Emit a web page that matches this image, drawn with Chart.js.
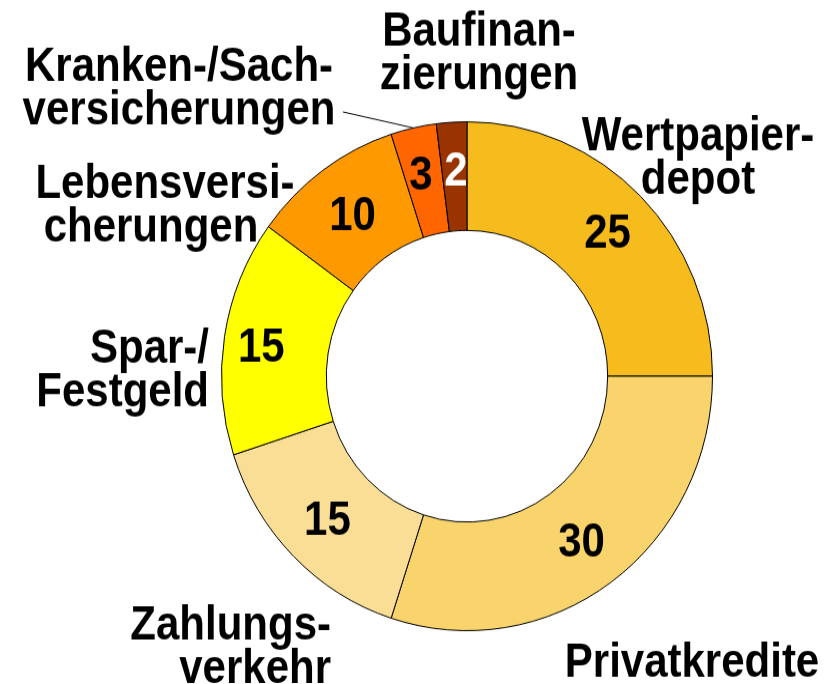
<!DOCTYPE html>
<html lang="de">
<head>
<meta charset="utf-8">
<title>Anteile</title>
<script src="https://cdn.jsdelivr.net/npm/chart.js@4.4.1/dist/chart.umd.min.js"></script>
<style>
  html, body { margin: 0; padding: 0; background: #fff; overflow: hidden; }
</style>
</head>
<body>
<!-- drawn at 660 high and shown at 684: the original is a little taller than wide -->
<canvas id="chart" width="836" height="660" style="width:836px;height:684px"></canvas>
<script>
const CATEGORIES = [
  ['Wertpapier-', 'depot'],
  ['Privatkredite'],
  ['Zahlungs-', 'verkehr'],
  ['Spar-/', 'Festgeld'],
  ['Lebensversi-', 'cherungen'],
  ['Kranken-/Sach-', 'versicherungen'],
  ['Baufinan-', 'zierungen'],
];
const VALUES = [25, 30, 15, 15, 10, 3, 2];
const COLORS = ['#F6BB1C', '#F9D46C', '#FADE96', '#FFFF00', '#FF9900', '#FF6600', '#993300'];
const VALUE_COLORS = ['#000', '#000', '#000', '#000', '#000', '#000', '#fff'];

// category label placement, relative to the doughnut centre (canvas px);
// lineDx shifts single lines sideways
const LABEL_POS = [
  { dx: 231, dy: -218, align: 'center' },
  { dx: 225, dy: 290, align: 'center' },
  { dx: -136, dy: 254, align: 'right' },
  { dx: -258, dy: -13, align: 'right' },
  { dx: -302, dy: -172, align: 'center', lineDx: [0, -14] },
  { dx: -288, dy: -285, align: 'center' },
  { dx: 12, dy: -319, align: 'center' },
];
// small nudges of the numbers away from the slice centre
const VALUE_NUDGE = [[4, 0], [1, 5], [-3, 4], [-15, 4], [-1, 3], [-4, -4], [1, -4]];
const LEADER = { index: 5, to: [-124, -255] };

const FONT = 'bold 42px "Liberation Sans", Arial, sans-serif';
const TEXT_SY = 1.095;
const LINE_HEIGHT = 42;

function tallText(ctx, text, x, y) {
  ctx.save();
  ctx.translate(x, y);
  ctx.scale(1, TEXT_SY);
  ctx.fillText(text, 0, 0);
  ctx.restore();
}

const labelPlugin = {
  id: 'sliceLabels',
  afterDraw(chart) {
    const ctx = chart.ctx;
    const arcs = chart.getDatasetMeta(0).data;
    const c = arcs[0].getProps(['x', 'y']);

    ctx.save();
    ctx.font = FONT;

    // values inside the ring
    ctx.textAlign = 'center';
    ctx.textBaseline = 'middle';
    arcs.forEach((arc, i) => {
      const p = arc.getCenterPoint();
      ctx.fillStyle = VALUE_COLORS[i];
      tallText(ctx, String(VALUES[i]), p.x + VALUE_NUDGE[i][0], p.y + VALUE_NUDGE[i][1]);
    });

    // category names around it
    ctx.fillStyle = '#000';
    ctx.textBaseline = 'alphabetic';
    CATEGORIES.forEach((lines, i) => {
      const pos = LABEL_POS[i];
      ctx.textAlign = pos.align;
      lines.forEach((line, j) => {
        const shift = pos.lineDx ? pos.lineDx[j] : 0;
        tallText(ctx, line, c.x + pos.dx + shift, c.y + pos.dy + j * LINE_HEIGHT);
      });
    });

    // leader line for the small slice
    const a = arcs[LEADER.index].getProps(['x', 'y', 'startAngle', 'endAngle', 'outerRadius']);
    const mid = (a.startAngle + a.endAngle) / 2;
    ctx.strokeStyle = '#000';
    ctx.lineWidth = 1;
    ctx.beginPath();
    ctx.moveTo(c.x + LEADER.to[0], c.y + LEADER.to[1]);
    ctx.lineTo(a.x + Math.cos(mid) * a.outerRadius, a.y + Math.sin(mid) * a.outerRadius);
    ctx.stroke();
    ctx.restore();
  },
};

new Chart(document.getElementById('chart').getContext('2d'), {
  type: 'doughnut',
  data: {
    labels: CATEGORIES.map((l) => l.join('')),
    datasets: [{
      data: VALUES,
      backgroundColor: COLORS,
      borderColor: '#000',
      borderWidth: 1,
    }],
  },
  options: {
    responsive: false,
    animation: false,
    cutout: '57.3%',
    layout: { padding: { left: 221, right: 123, top: 117, bottom: 51 } },
    plugins: {
      legend: { display: false },
      tooltip: { enabled: false },
    },
  },
  plugins: [labelPlugin],
});
</script>
</body>
</html>
